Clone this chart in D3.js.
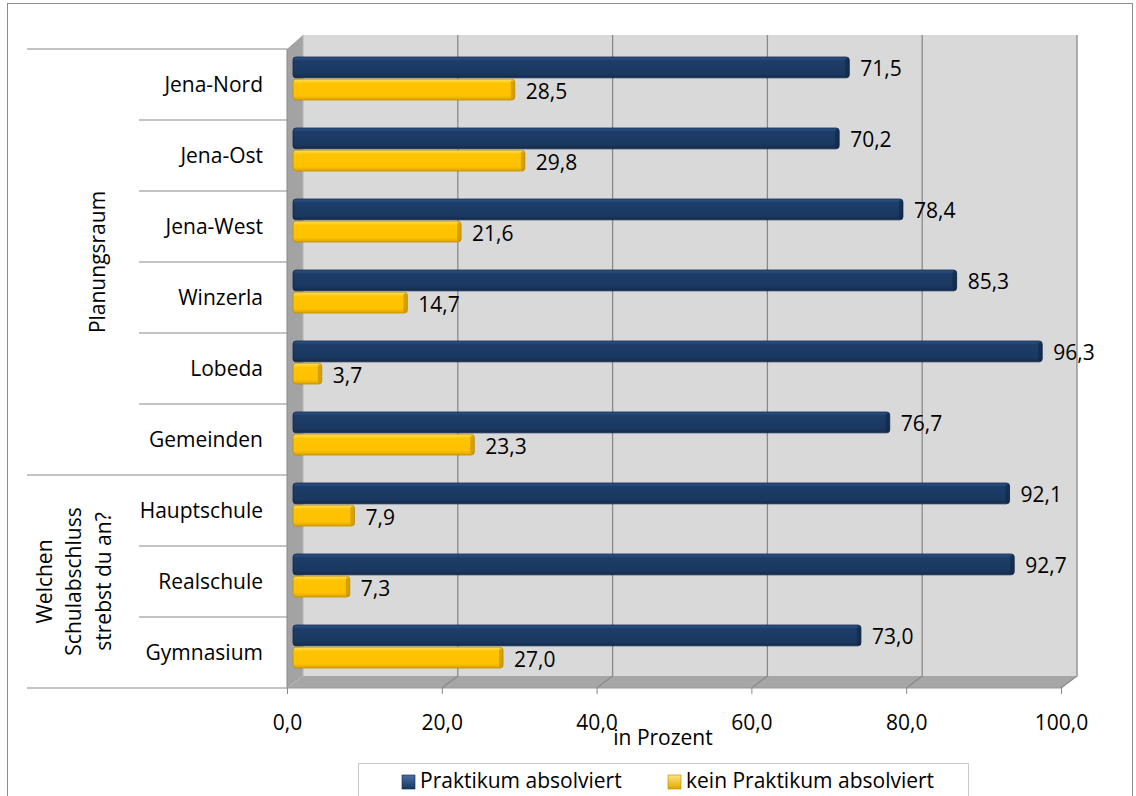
<!DOCTYPE html>
<html><head><meta charset="utf-8">
<script src="https://cdn.jsdelivr.net/npm/d3@7"></script>
<style>body{margin:0;background:#fff}svg{display:block}text{font-family:"Open Sans",sans-serif;fill:#000}</style>
</head><body><svg id="c" width="1136" height="796"></svg>
<script>
const categories = ["Jena-Nord","Jena-Ost","Jena-West","Winzerla","Lobeda","Gemeinden","Hauptschule","Realschule","Gymnasium"];
const groups = [{name:["Planungsraum"], from:0, to:5},{name:["Welchen","Schulabschluss","strebst du an?"], from:6, to:8}];
const seriesNames = ["Praktikum absolviert","kein Praktikum absolviert"];
const praktikum = [71.5,70.2,78.4,85.3,96.3,76.7,92.1,92.7,73.0];
const keinPraktikum = [28.5,29.8,21.6,14.7,3.7,23.3,7.9,7.3,27.0];
const xTicks = [0,20,40,60,80,100];
const xTitle = "in Prozent";

const FS = 21;
const fmt = v => d3.format(".1f")(v).replace(".", ",");
const svg = d3.select("#c");
const defs = svg.append("defs");
function grad(id, stops){
  const g = defs.append("linearGradient").attr("id",id).attr("x1",0).attr("y1",0).attr("x2",0).attr("y2",1);
  stops.forEach(s=>g.append("stop").attr("offset",s[0]).attr("stop-color",s[1]));
}
grad("gBlue",[[0,"#2f5589"],[0.18,"#1d3d69"],[0.8,"#1a385f"],[1,"#132a4a"]]);
grad("gYel",[[0,"#ffe066"],[0.2,"#ffc400"],[0.8,"#ffc000"],[1,"#d9a300"]]);
grad("gLegB",[[0,"#4a6fa5"],[1,"#17375e"]]);
grad("gLegY",[[0,"#ffe680"],[1,"#e0a800"]]);

// outer frame
svg.append("rect").attr("x",7.5).attr("y",3.5).attr("width",1125).attr("height",800).attr("fill","none").attr("stroke","#8c8c8c");

// scales: front plane, bar plane, back wall
const xF = d3.scaleLinear().domain([0,100]).range([287,1061]);
const xB = d3.scaleLinear().domain([0,100]).range([293,1071]);
const xW = d3.scaleLinear().domain([0,100]).range([303,1077]);
const yF = d3.scaleBand().domain(categories).range([49,688]);
const yB = d3.scaleBand().domain(categories).range([42,681]);
const ySer = d3.scaleBand().domain([0,1]).range([15,58]).paddingInner(0.06);
const wallTop = 35, wallBot = 676, frontBot = 688, frontTop = 49;

// back wall
svg.append("rect").attr("x",xW(0)).attr("y",wallTop).attr("width",xW(100)-xW(0)).attr("height",wallBot-wallTop).attr("fill","#d9d9d9");
// left side wall
svg.append("path").attr("d",`M${xF(0)},${frontTop}L${xW(0)},${wallTop}L${xW(0)},${wallBot}L${xF(0)},${frontBot}Z`).attr("fill","#a3a3a3");
svg.append("line").attr("x1",xW(0)).attr("x2",xW(0)).attr("y1",wallTop).attr("y2",wallBot).attr("stroke","#b5b5b5");
// floor
svg.append("path").attr("d",`M${xF(0)},${frontBot}L${xW(0)},${wallBot}L${xW(100)},${wallBot}L${xF(100)},${frontBot}Z`).attr("fill","#a6a6a6");
// gridlines
xTicks.filter(t=>t>0).forEach(t=>{
  svg.append("path").attr("d",`M${xW(t)},${wallTop}L${xW(t)},${wallBot}L${xF(t)},${frontBot}`).attr("fill","none").attr("stroke","#8a8a8a").attr("stroke-width",1.3);
});
// front edges
svg.append("line").attr("x1",xF(0)).attr("x2",xF(0)).attr("y1",frontTop).attr("y2",frontBot).attr("stroke","#8a8a8a");
svg.append("line").attr("x1",xF(0)).attr("x2",xF(100)).attr("y1",frontBot).attr("y2",frontBot).attr("stroke","#999");

// x axis ticks and labels
const gx = svg.append("g").attr("transform",`translate(0,${frontBot})`)
  .call(d3.axisBottom(xF).tickValues(xTicks).tickFormat(fmt).tickSize(6).tickSizeOuter(0));
gx.select(".domain").remove();
gx.selectAll(".tick line").attr("stroke","#8a8a8a");
gx.selectAll(".tick text").attr("font-size",FS).attr("dy",0).attr("y",42).attr("fill","#000").style("font-family","'Open Sans',sans-serif");
svg.append("text").attr("x",663).attr("y",745).attr("text-anchor","middle").attr("font-size",FS).text(xTitle);

// category labels and dividers
categories.forEach((c,i)=>{
  svg.append("text").attr("x",263).attr("y",yF(c)+yF.bandwidth()/2+7.5).attr("text-anchor","end").attr("font-size",FS).text(c);
});
const divX = d3.scaleOrdinal().domain(["group","cat"]).range([27,139]);
d3.range(categories.length+1).forEach(i=>{
  const y = 49 + i*yF.step();
  const isGroup = groups.some(g=>g.from===i) || i===categories.length;
  svg.append("line").attr("x1",isGroup?divX("group"):divX("cat")).attr("x2",xF(0)).attr("y1",y).attr("y2",y).attr("stroke","#8a8a8a").attr("stroke-width",1.2);
});
groups.forEach((g,gi)=>{
  const y0 = yF(categories[g.from]), y1 = yF(categories[g.to])+yF.bandwidth();
  const cy = (y0+y1)/2;
  const n = g.name.length;
  const lineH = 29.5;
  const cx = gi===0 ? 97 : 73.5;
  g.name.forEach((t,k)=>{
    const x = cx + (k-(n-1)/2)*lineH + 7.5;
    svg.append("text").attr("transform",`translate(${x},${cy}) rotate(-90)`).attr("text-anchor","middle").attr("font-size",FS).text(t);
  });
});

// bars
const series = [praktikum, keinPraktikum];
const fills = ["url(#gBlue)","url(#gYel)"];
const strokes = ["#10264a","#c08f00"];
const ends = ["#0f2440","#b58600"];
series.forEach((vals,si)=>{
  const g = svg.append("g");
  categories.forEach((c,i)=>{
    const y = yB(c)+ySer(si), h = ySer.bandwidth();
    const x0 = xB(0), x1 = xB(vals[i]);
    g.append("rect").attr("x",x0).attr("y",y).attr("width",x1-x0).attr("height",h).attr("rx",3).attr("fill",fills[si]).attr("stroke",strokes[si]).attr("stroke-width",0.8);
    g.append("rect").attr("x",x1-4).attr("y",y+1).attr("width",4).attr("height",h-2).attr("rx",2).attr("fill",ends[si]).attr("opacity",0.55);
    svg.append("text").attr("x",x1+11).attr("y",y+h/2+9).attr("font-size",FS).text(fmt(vals[i]));
  });
});

// legend
svg.append("rect").attr("x",358.5).attr("y",763.5).attr("width",610).attr("height",45).attr("fill","#fff").attr("stroke","#c8c8c8");
const legX = [402,668];
seriesNames.forEach((n,i)=>{
  svg.append("rect").attr("x",legX[i]).attr("y",775).attr("width",13).attr("height",14).attr("fill",i===0?"url(#gLegB)":"url(#gLegY)").attr("stroke",i===0?"#0f2440":"#b58600").attr("stroke-width",0.6);
  svg.append("text").attr("x",legX[i]+18).attr("y",788).attr("font-size",FS).text(n);
});
</script></body></html>
